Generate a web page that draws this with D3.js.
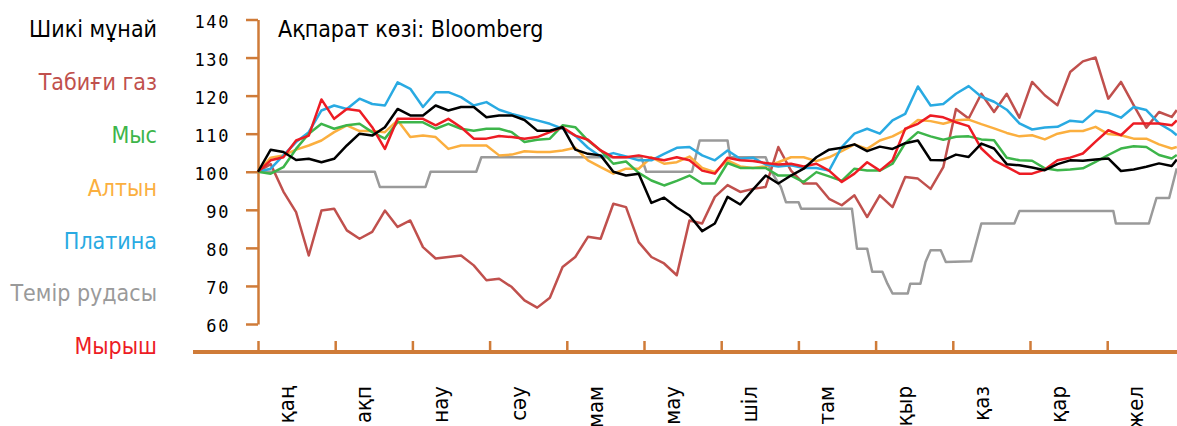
<!DOCTYPE html>
<html><head><meta charset="utf-8">
<script src="https://cdn.jsdelivr.net/npm/d3@7/dist/d3.min.js"></script>
<style>
html,body{margin:0;padding:0;background:#fff;overflow:hidden}
svg{display:block}
.t{font-family:'DejaVu Sans Condensed','DejaVu Sans',sans-serif;font-stretch:condensed}
.num{font-family:'DejaVu Sans Mono',monospace}
</style></head><body>
<svg id="c" width="1177" height="426"></svg>
<script>
const months = ["қаң","ақп","нау","сәу","мам","мау","шіл","там","қыр","қаз","қар","жел"];
const yTicks = [60,70,80,90,100,110,120,130,140];
const seriesNames = ["Шикі мұнай","Табиғи газ","Мыс","Алтын","Платина","Темір рудасы","Мырыш"];
const sourceText = "Ақпарат көзі: Bloomberg";

const days = [0,5,10,15,20,25,30,35,40,45,50,55,60,65,70,75,80,85,90,95,100,105,110,115,120,125,130,135,140,145,150,155,160,165,170,175,180,185,190,195,200,205,210,215,220,225,230,235,240,245,250,255,260,265,270,275,280,285,290,295,300,305,310,315,320,325,330,335,340,345,350,355,360,362];

const crudeOil = [100,105.8,105.2,103.1,103.4,102.5,103.4,106.9,110,109.5,111.7,116.5,114.8,114.8,117.4,116.1,117,117,114.3,
114.8,114.8,113.6,110.8,110.8,111.7,105.8,104.7,104.3,100,99,99.5,91.8,93.2,90.6,88.5,84.4,86.4,93.4,
91.4,95.3,99,96.9,99,100.8,103.8,105.8,106.3,107.2,105.4,106.6,106,107.5,108.2,103.1,103,
104.5,103.9,107.4,106.1,102,101.7,101.1,100.4,102,103,102.9,103.2,103.5,100.2,100.6,101.3,102.2,101.5,103.2];

const naturalGas = [100,102,94.8,89.4,78,89.8,90.3,84.6,82.4,84.2,89.8,85.5,87.2,80.2,77.2,77.6,78,75.4,71.5,
71.9,69.7,66.2,64.3,66.9,75,77.6,82.9,82.4,91.6,90.7,81.5,77.6,75.9,72.8,87.2,86.4,93.4,96.5,
94.7,95.5,96,106.5,100.3,96.9,96.9,92.9,91.2,93.8,88.1,93.8,90.7,98.6,98.2,95.5,101.2,
116.5,114,120.5,115.7,120.5,114.2,123.6,120.1,117.5,126.2,129,130,119.2,123.6,117.5,111.6,115.7,114.4,116.2];

const copper = [100,99.5,101.2,106,110,112.6,111.3,112.2,112.6,110.4,108.7,113,113,113,111.3,112.6,111.3,110.8,111.3,
111.3,110.4,107.8,108.4,108.7,112.2,111.7,108.2,105.6,102.1,102.7,99.7,97.7,96.4,97.6,99,96.9,96.9,102.3,
101,101,101,99,99,97.3,99.9,98.8,97.6,100.8,100.3,100.3,102.1,107.5,110.4,109.3,108.4,
109.2,109.3,108.5,108.3,103.7,103,102.9,100.9,100.4,100.6,100.9,102.6,104.4,106.1,106.7,106.5,104.4,103.5,104.4];

const gold = [100,103.7,104.3,105.8,106.9,108.2,110.4,112.2,110.7,110.7,110.4,113.5,109.1,109.5,109.1,106,106.9,106.9,106.9,
104.3,104.5,105.4,105.2,105.2,105.6,106.3,103,101.2,99.5,100.8,100.8,103.8,102.1,102.5,104,101,99.9,103,
101.4,101,101.4,102.5,103.8,103.8,102.8,103.8,105.4,107.2,106,108.2,109.3,111,113.6,113.3,112.6,
113.5,113.7,112.5,111.4,110.2,109.3,109.6,108.5,110,110.7,110.7,111.8,109.9,109.6,108.7,108.7,107.2,106.1,106.5];

const platinum = [100,100.8,104.3,107.8,110.4,116.1,117.4,116.5,119.2,117.8,117.4,123.5,121.8,117,120.9,120.9,119.6,117.4,118.3,
116.3,115.2,114.3,113.5,112.6,111.3,109.5,106.3,104,104.9,104,103,103,104.7,106.3,106.5,104.3,103,105.6,
103.4,103.7,101.9,101.4,101.7,101,101,100.3,106.5,110,111.3,110,113.5,115.2,122.4,117.4,117.8,
120.5,122.5,119.7,118.4,116.3,112.7,111.1,111.6,111.8,113.4,113.1,116,115.5,114.2,117,116.2,112.7,110.7,109.6];

const zinc = [100,103,103.8,108.2,109.5,119,113.9,116.5,116,111.7,106,113.9,113.9,113.9,112.2,113.9,111.7,108.7,108.7,
109.4,109.1,108.7,109.1,110.4,111.7,109.5,108.4,105.6,103.8,103.8,104.3,103.6,103,103.8,103,100.3,99.5,103.7,
103,102.8,102.3,101.9,102.1,101.4,102.1,100.3,97.3,99.5,102.5,100.3,103,111.3,112.6,114.8,114.3,
113,112,106.1,103,101.3,99.5,99.5,100.6,103,103.7,104.8,107.9,110.9,109.6,112.7,112.7,112.7,112.2,113.5];

const ironOreDays = [0,46,48,66,68,86,88,151,153,171,174,185,186,200,202,206,208,213,214,234,236,240,242,246,248,250,256,257,261,263,265,269,271,281,285,298,300,337,338,351,354,359,362];
const ironOre = [100,100,96,96,100,100,103.8,103.8,100,100,108.2,108.2,103.8,103.8,100.3,96,92,92,90.3,90.3,79.8,79.8,73.7,73.7,70.6,68,68,70.6,70.6,76.3,79.4,79.4,76.3,76.5,86.4,86.4,89.7,89.7,86.4,86.4,93.1,93.1,100.9];

const colors = {oil:"#000000", gas:"#c0504d", copper:"#3db54a", gold:"#fbaf3f", platinum:"#29aae2", iron:"#9a9a9a", zinc:"#ed1c24", axis:"#cf7b38"};
const legendColors = [colors.oil, colors.gas, colors.copper, colors.gold, colors.platinum, colors.iron, colors.zinc];

const svg = d3.select("#c");
const x = d3.scaleLinear().domain([0,365]).range([258, 258 + 77.2*12]);
const y = d3.scaleLinear().domain([60,140]).range([324, 19.5]);

// legend (left labels)
svg.append("g").selectAll("text").data(seriesNames).join("text")
  .attr("class","t").attr("x",157).attr("y",(d,i)=>36.7 + 52.95*i)
  .attr("text-anchor","end").attr("font-size",23).attr("fill",(d,i)=>legendColors[i]).text(d=>d);

// title
svg.append("text").attr("class","t").attr("x",278).attr("y",36.7).attr("font-size",23).attr("fill","#000").text(sourceText);

// y axis
const yAxis = svg.append("g").attr("transform","translate(258,0)")
  .call(d3.axisLeft(y).tickValues(yTicks).tickSize(12).tickSizeOuter(0).tickPadding(16));
yAxis.select(".domain").attr("stroke",colors.axis).attr("stroke-width",2.5);
yAxis.selectAll(".tick line").attr("stroke",colors.axis).attr("stroke-width",2.5);
yAxis.selectAll(".tick text").attr("class","num").attr("font-size",17).attr("letter-spacing","1.6px").attr("fill","#000").attr("dy","0.45em");

// x axis
const xTicks = months.map((m,i)=> i*365/12);
svg.append("line").attr("x1",193).attr("x2",1177).attr("y1",352).attr("y2",352).attr("stroke",colors.axis).attr("stroke-width",4);
const xAxis = svg.append("g").attr("transform","translate(0,352)")
  .call(d3.axisBottom(x).tickValues(xTicks).tickSize(-11).tickSizeOuter(0).tickFormat(""));
xAxis.select(".domain").remove();
xAxis.selectAll(".tick line").attr("stroke",colors.axis).attr("stroke-width",2.5);
svg.append("g").selectAll("text").data(months).join("text")
  .attr("class","t").attr("font-size",22).attr("fill","#000").attr("text-anchor","end")
  .attr("transform",(d,i)=>`translate(${x(xTicks[i])+36},386) rotate(-90)`).text(d=>d);

// lines
const line = d3.line().x(d=>x(d[0])).y(d=>y(d[1]));
const series = [
  {days:ironOreDays, v:ironOre, c:colors.iron},
  {days:days, v:naturalGas, c:colors.gas},
  {days:days, v:gold, c:colors.gold},
  {days:days, v:platinum, c:colors.platinum},
  {days:days, v:copper, c:colors.copper},
  {days:days, v:zinc, c:colors.zinc},
  {days:days, v:crudeOil, c:colors.oil}
];
svg.append("g").selectAll("path").data(series).join("path")
  .attr("d",s=>line(s.days.map((d,i)=>[d,s.v[i]])))
  .attr("fill","none").attr("stroke",s=>s.c).attr("stroke-width",2.5).attr("stroke-linejoin","round");
</script>
</body></html>
